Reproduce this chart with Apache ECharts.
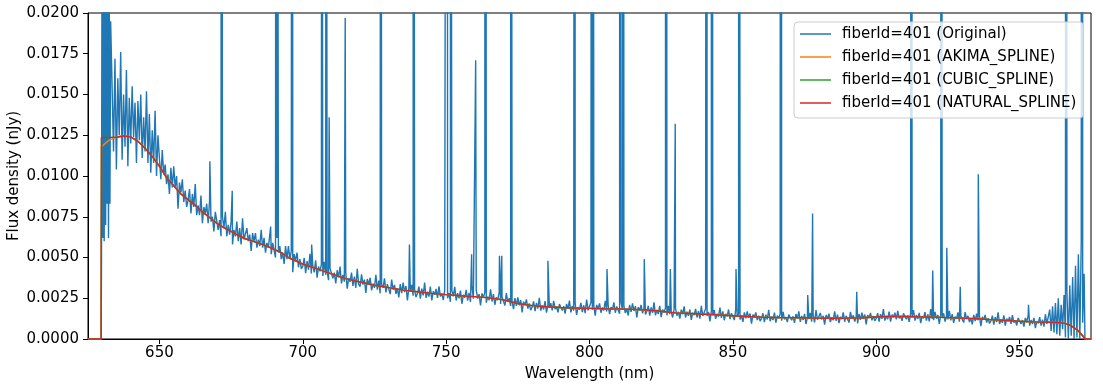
<!DOCTYPE html>
<html><head><meta charset="utf-8">
<script src="https://cdn.jsdelivr.net/npm/echarts@6/dist/echarts.min.js"></script>
<style>html,body{margin:0;padding:0;background:#fff}#c{width:1103px;height:389px}</style>
</head><body><div id="c"></div>
<script>
const seriesNames = ['fiberId=401 (Original)','fiberId=401 (AKIMA_SPLINE)','fiberId=401 (CUBIC_SPLINE)','fiberId=401 (NATURAL_SPLINE)'];
const seriesColors = ['#1f77b4','#ff7f0e','#2ca02c','#d62728'];
const xTicks = [650,700,750,800,850,900,950];

// Original spectrum: explicit points at the blue end
const origHead = [[625.1,0],[629.7,0],[629.8,0.0047],[630.0,0.0260],[630.25,0.0062],[630.5,0.0250],[630.75,0.0060],[631.0,0.0240],[631.25,0.0070],[631.5,0.0230],[631.75,0.0083],[632.0,0.0215],[632.25,0.0062],[632.5,0.0210],[632.75,0.0083],[633.0,0.0195]];
// Original spectrum: rows of [start wavelength, flux every 0.5 nm ...]
const origStep = 0.5;
const origRows = [
[633.5,.0194,.0115,.0172,.0104,.0160,.0125,.0176,.0110,.0150,.0118,.0165,.0106,.0148],
[640,.0120,.0155,.0124,.0145,.0108,.0146,.0122,.0150,.0111,.0136,.0115,.0152,.0108,.0138,.0102,.0128,.0108,.0140,.0100,.0125],
[650,.0111,.0098,.0116,.0101,.0107,.0095,.0101,.0089,.0105,.0093,.0106,.0093,.0100,.0080,.0096,.0090,.0098,.0084,.0091,.0081],
[660,.0085,.0092,.0077,.0089,.0081,.0095,.0076,.0082,.0076,.0088,.0071,.0081,.0077,.0083,.0071,.0085,.0072,.0075,.0066,.0078],
[670,.0078,.0067,.0073,.0063,.0075,.0068,.0078,.0063,.0070,.0064,.0072,.0058,.0067,.0063,.0072,.0060,.0068,.0058,.0074,.0061],
[680,.0060,.0068,.0060,.0064,.0054,.0065,.0060,.0065,.0056,.0061,.0057,.0067,.0056,.0062,.0053,.0059,.0056,.0064,.0052,.0059],
[690,.0058,.0050,.0062,.0053,.0057,.0049,.0053,.0046,.0057,.0049,.0057,.0049,.0054,.0041,.0052,.0048,.0053,.0044,.0049,.0043],
[700,.00447,.00497,.00404,.00478,.00426,.00522,.00402,.00448,.00409,.00483,.00376,.00445,.00415,.00457,.00387,.00474,.00394,.00414,.00361,.00435],
[710,.00442,.00372,.00407,.00341,.00422,.00377,.00445,.00341,.00393,.00352,.00408,.00309,.00374,.00351,.00408,.00326,.00383,.00314,.00430,.00335],
[720,.00322,.00396,.00334,.00364,.00282,.00368,.00334,.00376,.00298,.00340,.00314,.00393,.00303,.00358,.00280,.00335,.00313,.00372,.00286,.00337],
[730,.00330,.00275,.00365,.00302,.00332,.00277,.00310,.00255,.00337,.00282,.00346,.00288,.00325,.00236,.00315,.00291,.00332,.00266,.00303,.00257],
[740,.00279,.00321,.00248,.00309,.00268,.00346,.00252,.00290,.00260,.00321,.00237,.00293,.00271,.00307,.00252,.00323,.00261,.00278,.00238,.00298],
[750,.00307,.00250,.00282,.00228,.00297,.00262,.00320,.00236,.00281,.00249,.00297,.00216,.00271,.00254,.00301,.00235,.00283,.00227,.00324,.00247],
[760,.00236,.00300,.00248,.00275,.00206,.00280,.00252,.00288,.00223,.00260,.00238,.00305,.00230,.00276,.00210,.00256,.00238,.00288,.00215,.00258],
[770,.00253,.00206,.00281,.00227,.00250,.00203,.00230,.00183,.00251,.00204,.00256,.00207,.00238,.00163,.00229,.00209,.00243,.00187,.00218,.00177],
[780,.00196,.00231,.00171,.00221,.00187,.00253,.00174,.00206,.00181,.00232,.00162,.00209,.00191,.00220,.00175,.00234,.00183,.00197,.00164,.00214],
[790,.00223,.00175,.00201,.00156,.00215,.00185,.00236,.00163,.00202,.00175,.00217,.00148,.00195,.00180,.00222,.00165,.00207,.00158,.00242,.00176],
[800,.00167,.00224,.00179,.00203,.00143,.00209,.00185,.00218,.00161,.00193,.00175,.00234,.00168,.00210,.00153,.00195,.00180,.00225,.00161,.00200],
[810,.00197,.00155,.00226,.00178,.00202,.00159,.00186,.00144,.00209,.00167,.00218,.00172,.00202,.00132,.00195,.00177,.00209,.00158,.00188,.00151],
[820,.00169,.00204,.00143,.00194,.00160,.00225,.00146,.00179,.00154,.00204,.00134,.00181,.00162,.00191,.00145,.00204,.00152,.00166,.00132,.00182],
[830,.00188,.00143,.00167,.00125,.00180,.00152,.00200,.00132,.00168,.00142,.00181,.00117,.00161,.00147,.00185,.00132,.00171,.00125,.00203,.00141],
[840,.00132,.00186,.00143,.00165,.00108,.00170,.00147,.00177,.00124,.00154,.00137,.00193,.00130,.00169,.00115,.00154,.00139,.00181,.00122,.00158],
[850,.00154,.00116,.00180,.00137,.00157,.00119,.00143,.00105,.00163,.00126,.00170,.00130,.00156,.00094,.00150,.00133,.00163,.00116,.00143,.00110],
[860,.00126,.00158,.00104,.00149,.00120,.00179,.00109,.00138,.00116,.00162,.00100,.00143,.00127,.00154,.00112,.00166,.00120,.00134,.00104,.00150],
[870,.00158,.00115,.00139,.00099,.00153,.00125,.00170,.00106,.00141,.00117,.00154,.00092,.00135,.00122,.00160,.00107,.00145,.00102,.00178,.00118],
[880,.00109,.00160,.00120,.00142,.00088,.00147,.00125,.00155,.00104,.00132,.00116,.00170,.00111,.00149,.00098,.00135,.00122,.00163,.00106,.00142],
[890,.00139,.00101,.00166,.00124,.00145,.00107,.00132,.00095,.00154,.00117,.00162,.00123,.00150,.00089,.00146,.00130,.00160,.00115,.00142,.00111],
[900,.00127,.00159,.00106,.00152,.00124,.00183,.00113,.00143,.00122,.00168,.00107,.00150,.00134,.00161,.00120,.00173,.00127,.00141,.00111,.00157],
[910,.00165,.00121,.00145,.00105,.00159,.00132,.00177,.00113,.00148,.00123,.00160,.00097,.00140,.00127,.00165,.00113,.00151,.00108,.00183,.00124],
[920,.00115,.00166,.00125,.00147,.00092,.00151,.00129,.00158,.00107,.00136,.00120,.00173,.00114,.00152,.00099,.00137,.00124,.00163,.00106,.00142],
[930,.00139,.00101,.00165,.00122,.00142,.00104,.00128,.00090,.00148,.00110,.00156,.00115,.00142,.00079,.00136,.00118,.00148,.00101,.00128,.00095],
[940,.00111,.00143,.00088,.00134,.00104,.00163,.00092,.00121,.00099,.00145,.00082,.00125,.00108,.00135,.00093,.00147,.00100,.00114,.00083,.00129],
[950,.00136,.00093,.00116,.00076,.00129,.00102,.00147,.00082,.00116,.00092,.00129,.00067,.00110,.00096,.00134,.00082,.00119,.00076,.00152,.00092],
[960,.0010,.0018,.0005,.0020,.0004,.0022,.0003,.0025,.0002,.0021,.0006,.0027,.0001,.0029,0,.0033,.0002,.0038,0,.0045],
[970,.0001,.0052,0,.0060,.0010,.0040]
];
const origTail = [[972.8,0],[975,0]];
// Emission lines: [wavelength nm, peak flux]
const emissionLines = [
[667.6,.0109],[671.6,.08],[675.4,.0091],[688.8,.0069],[690.6,.05],[691.1,.06],[696.4,.15],
[703.1,.0058],[706.6,.06],[708.1,.07],[709.2,.0136],[714.8,.0197],[727.2,.09],[737.2,.0058],[738.5,.12],
[750.4,.10],[751.5,.08],[758.9,.0052],[760.3,.0171],[763.6,.20],[768.6,.0051],[769.4,.0051],[772.5,.10],
[785.5,.0048],[794.9,.12],[800.8,.10],[801.3,.08],[806.1,.0043],[810.6,.15],[811.8,.10],[819.1,.0049],
[826.6,.20],[828.2,.0043],[829.9,.0132],[840.9,.15],[842.5,.15],[851.1,.0043],[852.1,.12],[866.8,.30],
[876.1,.0027],[877.8,.0077],[893.2,.0029],[912.3,.15],[919.7,.0042],[922.6,.12],[924.6,.0056],
[929.3,.0032],[935.6,.0101],[953.1,.0021],[966.1,.30],[971.8,.40]
];

// Spline fits
const splineWl = [625.1,629.7,629.8,632.5,635,637.5,640,642.5,645,647.5,650,652.5,655,657.5,660,662.5,665,667.5,670,672.5,675,677.5,680,682.5,685,687.5,690,692.5,695,697.5,700,
705,710,715,720,725,730,735,740,745,750,755,760,765,770,775,780,785,790,795,800,805,810,815,820,825,830,835,840,845,850,855,860,865,870,875,880,885,890,895,900,905,910,915,920,925,930,935,940,945,950,955,960,
963,966,968,970,972,972.8,975];
const akimaFlux = [0,0,.0118,.0122,.0124,.01247,.0124,.01213,.0117,.0112,.0106,.0099,.0094,.0089,.00855,.0082,.0078,.00745,.0071,.00683,.0066,.00635,.00615,.006,.00585,.0057,.0055,.0053,.005,.0048,.0046,
.0043,.004,.0037,.0035,.0033,.00315,.003,.0029,.0028,.00272,.00265,.0026,.00252,.0024,.00218,.00205,.00198,.00193,.0019,.00188,.00186,.00185,.00182,.00178,.0017,.0016,.00156,.00152,.00148,.00143,.00138,.00134,.00132,.00131,.0013,.00128,.00127,.00128,.0013,.00135,.00139,.00138,.00136,.00134,.00131,.00128,.00124,.00119,.00114,.00109,.00105,.00103,
.00101,.00096,.0008,.00058,.0002,0,0];
const cubicFlux = [0,0,.01237,.01237,.01238,.01245,.0124,.01213,.0117,.0112,.0106,.0099,.0094,.0089,.00855,.0082,.0078,.00745,.0071,.00683,.0066,.00635,.00615,.006,.00585,.0057,.0055,.0053,.005,.0048,.0046,
.0043,.004,.0037,.0035,.0033,.00315,.003,.0029,.0028,.00272,.00265,.0026,.00252,.0024,.00218,.00205,.00198,.00193,.0019,.00188,.00186,.00185,.00182,.00178,.0017,.0016,.00156,.00152,.00148,.00143,.00138,.00134,.00132,.00131,.0013,.00128,.00127,.00128,.0013,.00135,.00139,.00138,.00136,.00134,.00131,.00128,.00124,.00119,.00114,.00109,.00105,.00103,
.00101,.00096,.0008,.00058,.0002,0,0];
const naturalFlux = [0,0,.01237,.01237,.01238,.01245,.0124,.01213,.0117,.0112,.0106,.0099,.0094,.0089,.00855,.0082,.0078,.00745,.0071,.00683,.0066,.00635,.00615,.006,.00585,.0057,.0055,.0053,.005,.0048,.0046,
.0043,.004,.0037,.0035,.0033,.00315,.003,.0029,.0028,.00272,.00265,.0026,.00252,.0024,.00218,.00205,.00198,.00193,.0019,.00188,.00186,.00185,.00182,.00178,.0017,.0016,.00156,.00152,.00148,.00143,.00138,.00134,.00132,.00131,.0013,.00128,.00127,.00128,.0013,.00135,.00139,.00138,.00136,.00134,.00131,.00128,.00124,.00119,.00114,.00109,.00105,.00103,
.00101,.00096,.0008,.00058,.0002,0,0];

function buildOriginal() {
  const pts = origHead.slice();
  origRows.forEach(row => {
    for (let i = 1; i < row.length; i++) pts.push([+(row[0] + (i - 1) * origStep).toFixed(2), row[i]]);
  });
  emissionLines.forEach(l => pts.push([l[0], l[1]]));
  origTail.forEach(p => pts.push(p));
  pts.sort((a, b) => a[0] - b[0]);
  return pts;
}
function zip(xs, ys) { return xs.map((x, i) => [x, ys[i]]); }

const FONT = 'DejaVu Sans';
const chart = echarts.init(document.getElementById('c'), null, {renderer: 'canvas'});
const mk = (i, data) => ({
  name: seriesNames[i], type: 'line', data: data, showSymbol: false, symbol: 'none',
  lineStyle: {width: 1.4, color: seriesColors[i]}, itemStyle: {color: seriesColors[i]},
  clip: true, sampling: null, animation: false, emphasis: {disabled: true}, z: 2 + i
});
chart.setOption({
  animation: false,
  backgroundColor: '#fff',
  grid: {left: 88, right: 12, top: 13, bottom: 50, show: true, borderColor: '#000', borderWidth: 1,
         backgroundColor: 'transparent', containLabel: false, outerBoundsMode: 'none'},
  legend: {
    orient: 'vertical', left: 794, top: 22, selectedMode: false,
    icon: 'rect', itemWidth: 31, itemHeight: 1.5, itemGap: 5,
    padding: [3, 7, 6, 6],
    backgroundColor: 'rgba(255,255,255,0.8)', borderColor: '#cccccc', borderWidth: 1, borderRadius: 4,
    textStyle: {fontFamily: FONT, fontSize: 15, color: '#000', lineHeight: 18, padding: [0, 0, 0, 6]},
    data: seriesNames
  },
  xAxis: {
    type: 'value', min: 625.1, max: 974.9,
    name: 'Wavelength (nm)', nameLocation: 'middle', nameGap: 28, nameMoveOverlap: false,
    nameTextStyle: {fontFamily: FONT, fontSize: 15, color: '#000'},
    axisLine: {show: true, onZero: false, lineStyle: {color: '#000', width: 1}},
    axisTick: {show: true, length: 5, lineStyle: {color: '#000', width: 1}, customValues: xTicks},
    axisLabel: {customValues: xTicks, fontFamily: FONT, fontSize: 15, color: '#000', margin: 7},
    splitLine: {show: false}
  },
  yAxis: {
    type: 'value', min: 0, max: 0.02, interval: 0.0025,
    name: 'Flux density (nJy)', nameLocation: 'middle', nameGap: 66, nameMoveOverlap: false,
    nameTextStyle: {fontFamily: FONT, fontSize: 15, color: '#000'},
    axisLine: {show: true, onZero: false, lineStyle: {color: '#000', width: 1}},
    axisTick: {show: true, length: 5, lineStyle: {color: '#000', width: 1}},
    axisLabel: {fontFamily: FONT, fontSize: 15, color: '#000', margin: 9, formatter: v => v.toFixed(4)},
    splitLine: {show: false}
  },
  series: [
    mk(0, buildOriginal()),
    mk(1, zip(splineWl, akimaFlux)),
    mk(2, zip(splineWl, cubicFlux)),
    mk(3, zip(splineWl, naturalFlux))
  ]
});
</script></body></html>
